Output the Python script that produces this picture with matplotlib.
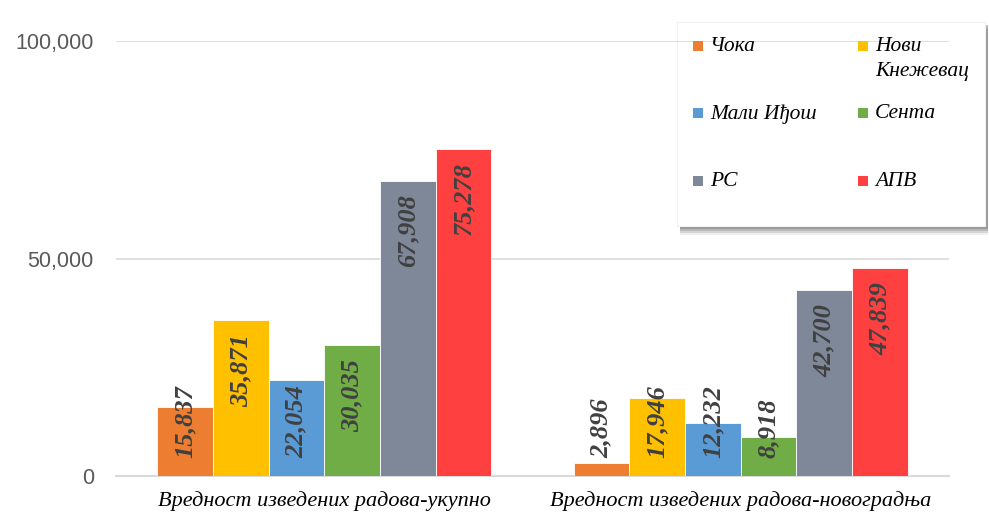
import numpy as np
import matplotlib.pyplot as plt
from matplotlib.patches import Rectangle

categories = ['Вредност изведених радова-укупно', 'Вредност изведених радова-новоградња']
series = ['Чока', 'Нови\nКнежевац', 'Мали Иђош', 'Сента', 'РС', 'АПВ']
colors = ['#ED7D31', '#FFC000', '#5B9BD5', '#70AD47', '#7F8898', '#FF4040']
values = [
    [15837, 2896],
    [35871, 17946],
    [22054, 12232],
    [30035, 8918],
    [67908, 42700],
    [75278, 47839],
]
yticks = [0, 50000, 100000]

serif = 'Liberation Serif'
sans = 'Liberation Sans'

fig = plt.figure(figsize=(9.89, 5.32), dpi=100)
ax = fig.add_axes([116 / 989, 56 / 532, 833 / 989, 435 / 532])
ax.patch.set_alpha(0)

x = np.arange(len(categories))
w = 0.1336
n = len(series)
bars = []
for j in range(n):
    b = ax.bar(x + (j - (n - 1) / 2) * w, values[j], w, color=colors[j],
               edgecolor='white', linewidth=0.6, zorder=3)
    bars.append(b)

ax.set_xlim(-0.5, 1.5)
ax.set_ylim(0, 100000)
ax.set_yticks(yticks)
ax.set_yticklabels(['{:,}'.format(v) for v in yticks], fontsize=15.5,
                   family=sans, color='#595959')
ax.set_xticks(x)
ax.set_xticklabels(categories, fontsize=16, family=serif, style='italic', color='black')
ax.tick_params(axis='y', length=0, pad=16)
ax.tick_params(axis='x', length=0, pad=11)
ax.grid(axis='y', color='#d9d9d9', linewidth=1.2, zorder=0)
for s in ['top', 'right', 'left']:
    ax.spines[s].set_visible(False)
ax.spines['bottom'].set_color('#d9d9d9')
ax.spines['bottom'].set_linewidth(1.5)

# data labels: inside end, pushed up from the base when they do not fit
fig.canvas.draw()
r = fig.canvas.get_renderer()
to_px = ax.transData
from_px = ax.transData.inverted()
base_px = to_px.transform((0, 0))[1] + 18
for j in range(n):
    for rect, v in zip(bars[j], values[j]):
        cx = rect.get_x() + rect.get_width() / 2
        top_px = to_px.transform((0, v))[1] - 14
        t = ax.text(cx, from_px.transform((0, top_px))[1], '{:,}'.format(v),
                    rotation=90, ha='center', va='top', fontsize=19, family=serif,
                    weight='bold', style='italic', color='#404040', zorder=5)
        bb = t.get_window_extent(r)
        if bb.y0 < base_px:
            t.set_va('bottom')
            t.set_y(from_px.transform((0, base_px))[1])

# legend box with shadow (drawn below the axes so the top gridline crosses it)
lx0, ly0, lx1, ly1 = 677, 532 - 226, 985, 532 - 22
W, H = 989, 532
for k, (dy, a) in enumerate([(9, 0.12), (7, 0.22), (5, 0.35), (3, 0.5)]):
    fig.patches.append(Rectangle(((lx0 + 3) / W, (ly0 - dy) / H), (lx1 - lx0) / W,
                                 (ly1 - ly0) / H, transform=fig.transFigure,
                                 facecolor='#808080', alpha=a, edgecolor='none',
                                 zorder=-3))
fig.patches.append(Rectangle((lx0 / W, ly0 / H), (lx1 - lx0) / W,
                             (ly1 - ly0) / H, transform=fig.transFigure,
                             facecolor='white', edgecolor='#f2f2f2', linewidth=0.8,
                             zorder=-2))
col_x = [693, 858]
row_y = [46, 113, 181]
for k, name in enumerate(series):
    cxp = col_x[k % 2]
    cyp = row_y[k // 2]
    fig.patches.append(Rectangle((cxp / W, (H - cyp - 5) / H), 10 / W, 10 / H,
                                 transform=fig.transFigure, facecolor=colors[k],
                                 edgecolor='none', zorder=3))
    fig.text((cxp + 17) / W, (H - cyp + 9) / H, name, ha='left', va='top',
             fontsize=15.5, family=serif, style='italic', color='black',
             linespacing=1.4, zorder=4)

fig.savefig('out.png', dpi=100)
